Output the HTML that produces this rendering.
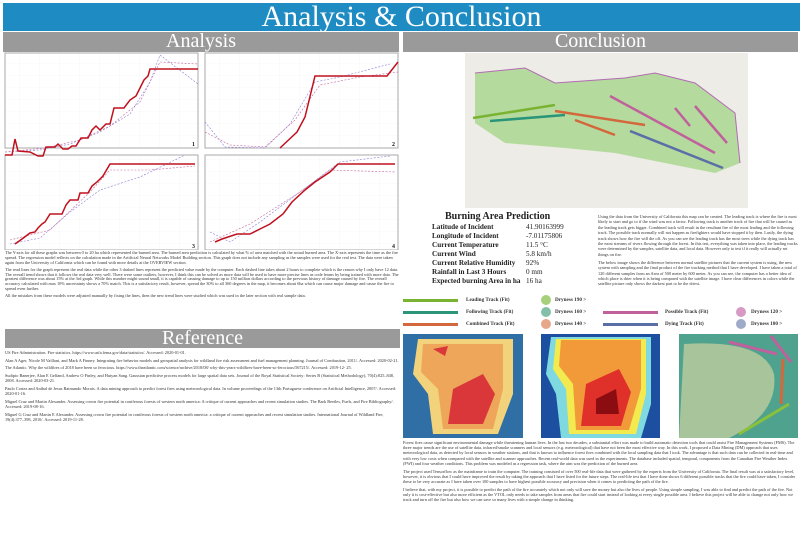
<!DOCTYPE html>
<html><head><meta charset="utf-8"><style>
*{margin:0;padding:0;box-sizing:border-box}
body{width:806px;height:537px;background:#fff;position:relative;overflow:hidden;font-family:"Liberation Serif",serif;color:#222}
.a{position:absolute}
.bar{background:#1e8bc3;color:#fff;text-align:center;font-size:30px;line-height:28px}
.hd{background:#9a9a9a;color:#fff;text-align:center;font-size:20px;line-height:19px}
.sm{font-size:4.3px;line-height:4.75px;color:#333}
.sm p{margin-bottom:2.5px}
.tb td{font-size:7.2px;line-height:9px;padding:0}
.tb td:first-child{font-weight:bold;width:94px}
.lg{font-size:5.2px;font-weight:bold;color:#333}
</style></head><body>
<div class="a bar" style="left:3px;top:3px;width:797px;height:28px">Analysis &amp; Conclusion</div>
<div class="a hd" style="left:3px;top:32px;width:396px;height:20px">Analysis</div>
<div class="a hd" style="left:403px;top:32px;width:395px;height:20px">Conclusion</div>

<svg class="a" style="left:0;top:52px" width="403" height="198">
<defs><pattern id="g" width="20" height="12" patternUnits="userSpaceOnUse"><path d="M20 0V12M0 12H20" stroke="#eee" stroke-width=".5" fill="none"/></pattern></defs>
<g fill="url(#g)" stroke="#aaa" stroke-width="1">
<rect x="5" y="1" width="193" height="95"/><rect x="205" y="1" width="193" height="95"/>
<rect x="5" y="103" width="193" height="95"/><rect x="205" y="103" width="193" height="95"/></g>
<g font-size="6" font-weight="bold" fill="#222"><text x="192" y="94">1</text><text x="392" y="94">2</text><text x="192" y="196">3</text><text x="392" y="196">4</text></g>
<g fill="none" stroke-dasharray="2,1.5" stroke-width=".6">
<polyline stroke="#8a7fd6" points="5,100 40,98 70,92 100,80 130,62 150,30 160,3 198,32"/>
<polyline stroke="#c36aa0" points="5,100 45,96 80,88 110,74 140,50 160,10 198,12"/>
<polyline stroke="#8a7fd6" points="205,70 225,95 265,96 290,72 315,30 340,25 390,12"/>
<polyline stroke="#c36aa0" points="205,80 230,93 265,95 295,68 320,33 360,25 398,20"/>
<polyline stroke="#8a7fd6" points="10,192 40,186 70,160 100,138 140,125 185,103"/>
<polyline stroke="#c36aa0" points="10,188 50,178 90,140 110,118 150,118 195,114"/>
<polyline stroke="#8a7fd6" points="210,180 230,190 260,170 300,140 340,110 390,104"/>
<polyline stroke="#c36aa0" points="210,190 250,172 300,140 330,118 395,120"/>
</g>
<g fill="none" stroke="#c0101e" stroke-width="1.5">
<polyline points="5,103 12,103 15,87 18,99 30,100 38,104 43,104 46,95 55,95 58,92 63,97 68,97 72,94 76,94 81,86 88,86 92,78 96,74 100,78 106,72 110,72 114,56 124,56 130,48 136,44 140,36 144,28 148,24 150,17 198,17"/>
<polyline points="280,96 297,80 305,65 315,24 387,24 398,10"/>
<polyline points="15,192 22,187 30,181 35,180 38,176 42,172 45,170 50,162 62,162 66,153 70,148 78,148 80,141 88,141 92,134 97,130 103,124 110,112 195,112"/>
<polyline points="215,190 222,187 237,182 250,182 262,176 270,172 283,162 292,150 305,138 315,130 330,120 338,112 395,112"/>
</g></svg>

<div class="a sm" style="left:5px;top:251px;width:395px">
<p>The Y-axis for all these graphs was between 0 to 20 ha which represented the burned area. The burned area prediction is calculated by what % of area matched with the actual burned area. The X-axis represents the time as the fire spread. The regression model reflects on the calculation made in the Artificial Neural Networks Model Building section. This graph does not include any sampling as the samples were used for the real test. The data were taken again from the University of California which can be found with more details at the OVERVIEW section.</p>
<p>The read lines for the graph represent the real data while the other 3 dashed lines represent the predicted value made by the computer. Each dashed line takes about 2 hours to complete which is the reason why I only have 12 data. The overall trend shows that it follows the real data very well. There were some outliers, however, I think this can be solved as more data will be used to have more precise lines as code learns by being trained with more data. The greatest difference was about 15% at the 3rd graph. While this number might sound small, it is capable of causing damage to up to 150 million dollars according to the previous history of damage caused by fire. The overall accuracy calculated with max 10% uncertainty shows a 70% match. This is a satisfactory result, however, spread the 30% to all 360 degrees in the map, it becomes about 6ha which can cause major damage and cause the fire to spread even further.</p>
<p>All the mistakes from these models were adjusted manually by fixing the lines, then the new trend lines were studied which was used in the later section with real sample data.</p></div>

<div class="a hd" style="left:5px;top:329px;width:395px;height:19px">Reference</div>
<div class="a sm" style="left:5px;top:350px;width:395px;line-height:5.2px">
<p>US Fire Administration. Fire statistics. https://www.usfa.fema.gov/data/statistics/. Accessed: 2020-01-01.</p>
<p>Alan A Ager, Nicole M Vaillant, and Mark A Finney. Integrating fire behavior models and geospatial analysis for wildland fire risk assessment and fuel management planning. Journal of Combustion, 2011/. Accessed: 2020-02-21.</p>
<p>The Atlantic. Why the wildfires of 2018 have been so ferocious. https://www.theatlantic.com/science/archive/2018/08/ why-this-years-wildfires-have-been-so-ferocious/567215/. Accessed: 2019-12- 25.</p>
<p>Sudipto Banerjee, Alan E Gelfand, Andrew O Finley, and Huiyan Sang. Gaussian predictive process models for large spatial data sets. Journal of the Royal Statistical Society: Series B (Statistical Methodology), 70(4):825–848, 2008. Accessed: 2020-03-21.</p>
<p>Paulo Cortez and Aníbal de Jesus Raimundo Morais. A data mining approach to predict forest fires using meteorological data. In volume proceedings of the 13th Portuguese conference on Artificial Intelligence, 2007/. Accessed: 2020-01-16.</p>
<p>Miguel Cruz and Martin Alexander. Assessing crown fire potential in coniferous forests of western north america: A critique of current approaches and recent simulation studies. The Bark Beetles, Fuels, and Fire Bibliography/. Accessed: 2019-08-16.</p>
<p>Miguel G Cruz and Martin E Alexander. Assessing crown fire potential in coniferous forests of western north america: a critique of current approaches and recent simulation studies. International Journal of Wildland Fire, 19(4):377–398, 2010/. Accessed: 2019-11-28.</p></div>

<svg class="a" style="left:465px;top:53px" width="283" height="155">
<rect width="283" height="155" fill="#eeece6"/>
<path d="M10 20 L60 15 L90 30 L160 25 L190 20 L230 30 L270 60 L275 110 L250 120 L200 110 L150 100 L100 95 L40 90 L10 70Z" fill="#a6d68c" opacity=".8"/>
<path d="M10 20 L60 15 L90 30 L160 25 L190 20 L230 30 L270 60 L275 110" fill="none" stroke="#b26bb3" stroke-width="1"/>
<g stroke-width="2.5" fill="none">
<line x1="8" y1="65" x2="90" y2="52" stroke="#7ab332"/>
<line x1="25" y1="68" x2="100" y2="62" stroke="#2a9578"/>
<line x1="90" y1="58" x2="180" y2="72" stroke="#d2683c"/>
<line x1="110" y1="67" x2="150" y2="82" stroke="#d2683c"/>
<line x1="145" y1="43" x2="250" y2="100" stroke="#c0609c"/>
<line x1="210" y1="55" x2="225" y2="73" stroke="#c0609c"/>
<line x1="230" y1="53" x2="262" y2="90" stroke="#c0609c"/>
<line x1="165" y1="78" x2="258" y2="115" stroke="#5a6fa6"/>
</g></svg>

<div class="a" style="left:445px;top:211px;font-size:10px;font-weight:bold;color:#222">Burning Area Prediction</div>
<table class="a tb" style="left:432px;top:223px;border-collapse:collapse">
<tr><td>Latitude of Incident</td><td>41.90163999</td></tr>
<tr><td>Longitude of Incident</td><td>-7.01175806</td></tr>
<tr><td>Current Temperature</td><td>11.5 °C</td></tr>
<tr><td>Current Wind</td><td>5.8 km/h</td></tr>
<tr><td>Current Relative Humidity</td><td>92%</td></tr>
<tr><td>Rainfall in Last 3 Hours</td><td>0 mm</td></tr>
<tr><td>Expected burning Area in ha</td><td>16 ha</td></tr></table>

<div class="a sm" style="left:598px;top:214px;width:200px;line-height:5.4px">
<p>Using the data from the University of California this map can be created. The leading track is where the fire is most likely to start and go to if the wind was not a factor. Following track is another track of fire that will be caused as the leading track gets bigger. Combined track will result in the resultant fire of the most leading and the following track. The possible track normally will not happen as firefighters would have stopped it by then. Lastly, the dying track shows how the fire will die off. As you can see the leading track has the most trees while the dying track has the most streams of rivers flowing through the forest. In this test, everything was taken into place, the leading tracks were determined by the samples, satellite data, and local data. However only to test if it really will actually set things on fire.</p>
<p>The below image shows the difference between normal satellite pictures that the current system is using, the new system with sampling and the final product of the fire tracking method that I have developed. I have taken a total of 120 different samples from an Area of 500 meter by 600 meter. As you can see, the computer has a better idea of which place is drier when it is being compared with the satellite image. I have clear differences in colors while the satellite picture only shows the darkest part to be the driest.</p></div>

<div class="a" style="left:403px;top:298px;width:400px;height:32px">
<div class="a" style="left:0;top:1px;width:55px;height:3px;background:#7ab332"></div>
<div class="a lg" style="left:63px;top:-1px">Leading Track (Fit)</div>
<div class="a" style="left:0;top:13px;width:55px;height:3px;background:#2a9578"></div>
<div class="a lg" style="left:63px;top:11px">Following Track (Fit)</div>
<div class="a" style="left:0;top:25px;width:55px;height:3px;background:#d2683c"></div>
<div class="a lg" style="left:63px;top:23px">Combined Track (Fit)</div>
<div class="a" style="left:138px;top:-3px;width:10px;height:10px;border-radius:50%;background:#a6d17a"></div>
<div class="a lg" style="left:152px;top:-1px">Dryness 190 &gt;</div>
<div class="a" style="left:138px;top:9px;width:10px;height:10px;border-radius:50%;background:#83c0a8"></div>
<div class="a lg" style="left:152px;top:11px">Dryness 160 &gt;</div>
<div class="a" style="left:138px;top:21px;width:10px;height:10px;border-radius:50%;background:#e6a78a"></div>
<div class="a lg" style="left:152px;top:23px">Dryness 140 &gt;</div>
<div class="a" style="left:200px;top:13px;width:55px;height:3px;background:#c0609c"></div>
<div class="a lg" style="left:262px;top:11px">Possible Track (Fit)</div>
<div class="a" style="left:200px;top:25px;width:55px;height:3px;background:#5a6fa6"></div>
<div class="a lg" style="left:262px;top:23px">Dying Track (Fit)</div>
<div class="a" style="left:333px;top:9px;width:10px;height:10px;border-radius:50%;background:#d69ac4"></div>
<div class="a lg" style="left:348px;top:11px">Dryness 120 &gt;</div>
<div class="a" style="left:333px;top:21px;width:10px;height:10px;border-radius:50%;background:#9faac8"></div>
<div class="a lg" style="left:348px;top:23px">Dryness 100 &gt;</div></div>

<svg class="a" style="left:403px;top:334px" width="120" height="104">
<rect width="120" height="104" fill="#2f6fa6"/>
<path d="M15 5 H110 V60 L95 100 H30 L25 60 L10 40Z" fill="#f2d27a"/>
<path d="M20 10 H100 V55 L90 95 H40 L35 55 L18 38Z" fill="#eea65a"/>
<path d="M50 55 L80 40 L92 60 L80 90 H45Z" fill="#d9373a"/>
<path d="M30 15 L45 12 L42 22Z" fill="#d9373a"/></svg>
<svg class="a" style="left:541px;top:334px" width="119" height="104">
<rect width="119" height="104" fill="#1d4fa0"/>
<path d="M10 3 H110 V70 L100 104 H20 L15 60 L5 40Z" fill="#7fd9e0"/>
<path d="M15 5 H105 V60 L95 100 H28 L25 55 L12 35Z" fill="#f2ea4e"/>
<path d="M20 6 H100 V55 L88 96 H35 L32 50 L18 32Z" fill="#f29a3a"/>
<path d="M45 50 L78 35 L90 58 L80 92 H40Z" fill="#e0302a"/>
<path d="M55 65 L75 55 L78 80 H55Z" fill="#8b0d12"/></svg>
<svg class="a" style="left:679px;top:334px" width="119" height="104">
<rect width="119" height="104" fill="#a7c49a"/>
<path d="M0 0 H119 V104 H0Z M5 10 Q85 5 95 40 Q100 80 50 104 H0Z" fill="#3a9a8a" fill-rule="evenodd" opacity=".8"/>
<line x1="50" y1="8" x2="98" y2="20" stroke="#c0609c" stroke-width="3"/>
<line x1="92" y1="2" x2="112" y2="28" stroke="#c0609c" stroke-width="3"/>
<line x1="104" y1="25" x2="102" y2="70" stroke="#d2683c" stroke-width="3"/>
<line x1="60" y1="100" x2="110" y2="70" stroke="#8ac03a" stroke-width="3"/></svg>

<div class="a sm" style="left:403px;top:440px;width:396px;line-height:5.2px">
<p>Forest fires cause significant environmental damage while threatening human lives. In the last two decades, a substantial effort was made to build automatic detection tools that could assist Fire Management Systems (FMS). The three major trends are the use of satellite data, infrared/smoke scanners and local sensors (e.g. meteorological) that have not been the most effective way. In this work, I proposed a Data Mining (DM) approach that uses meteorological data, as detected by local sensors in weather stations, and that is known to influence forest fires combined with the local sampling data that I took. The advantage is that such data can be collected in real-time and with very low costs when compared with the satellite and scanner approaches. Recent real-world data was used in the experiments. The database included spatial, temporal, components from the Canadian Fire Weather Index (FWI) and four weather conditions. This problem was modeled as a regression task, where the aim was the prediction of the burned area.</p>
<p>The project used Tensorflow as the mainframe to train the computer. The training consisted of over 500 real-life data that were gathered by the experts from the University of California. The final result was at a satisfactory level, however, it is obvious that I could have improved the result by taking the approach that I have listed for the future steps. The real-life test that I have done shows 6 different possible tracks that the fire could have taken, I consider these to be very accurate as I have taken over 100 samples to have highest possible accuracy and precision when it comes to predicting the path of the fire.</p>
<p>I believe that, with my project, it is possible to predict the path of the fire accurately which not only will save the money but also the lives of people. Using simple sampling, I was able to find and predict the path of the fire. Not only it is cost-effective but also more efficient as the VTOL only needs to take samples from areas that fire could start instead of looking at every single possible area. I believe this project will be able to change not only how we track and turn off the fire but also how we can save so many lives with a simple change in thinking.</p></div>
</body></html>
